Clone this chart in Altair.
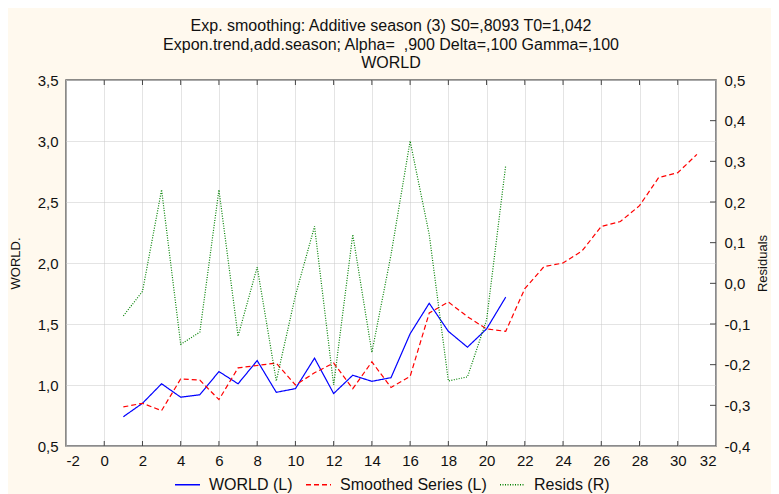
import altair as alt
import pandas as pd

# ---- data ----
x_world = list(range(1, 22))
world = [0.74, 0.85, 1.01, 0.90, 0.92, 1.11, 1.01, 1.20, 0.94, 0.97, 1.22,
         0.93, 1.08, 1.03, 1.06, 1.42, 1.67, 1.44, 1.31, 1.46, 1.72]

x_smooth = list(range(1, 32))
smoothed = [0.82, 0.85, 0.79, 1.05, 1.04, 0.88, 1.14, 1.16, 1.18, 1.00, 1.10,
            1.18, 0.97, 1.19, 0.98, 1.07, 1.59, 1.68, 1.56, 1.46, 1.44, 1.79,
            1.97, 2.00, 2.10, 2.30, 2.34, 2.47, 2.70, 2.74, 2.89]

x_resid = list(range(1, 22))
resids = [-0.08, -0.02, 0.23, -0.15, -0.12, 0.23, -0.13, 0.04, -0.24, -0.03,
          0.14, -0.25, 0.12, -0.17, 0.07, 0.35, 0.12, -0.24, -0.23, -0.09, 0.29]

series_names = ["WORLD (L)", "Smoothed Series (L)", "Resids (R)"]
series_colors = ["#0000FF", "#FF0000", "#008000"]
series_dash = [[1, 0], [5, 3], [1, 1.5]]

x_tick_values = list(range(-2, 33, 2))
x_inner_ticks = list(range(0, 31, 2))
left_tick_values = [0.5, 1.0, 1.5, 2.0, 2.5, 3.0, 3.5]
right_tick_values = [-0.4, -0.3, -0.2, -0.1, 0.0, 0.1, 0.2, 0.3, 0.4, 0.5]
right_inner_ticks = [-0.3, -0.2, -0.1, 0.0, 0.1, 0.2, 0.3, 0.4]

title_lines = [
    "Exp. smoothing: Additive season (3) S0=,8093 T0=1,042",
    "Expon.trend,add.season; Alpha= \u00a0,900 Delta=,100 Gamma=,100",
    "WORLD",
]
left_title = "WORLD."
right_title = "Residuals"

# ---- tables ----
left_df = pd.DataFrame({
    "t": x_world + x_smooth,
    "v": world + smoothed,
    "series": [series_names[0]] * len(x_world) + [series_names[1]] * len(x_smooth),
})
resid_df = pd.DataFrame({"t": x_resid, "v": resids, "series": series_names[2]})
xticks_df = pd.DataFrame({"t": x_inner_ticks})
rticks_df = pd.DataFrame({"v": right_inner_ticks})

FONT = "Liberation Sans"
W, H = 650, 366
num_expr = "replace(replace(format(datum.value, '.1f'), '.', ','), '\u2212', '-')"
int_expr = "replace(format(datum.value, 'd'), '\u2212', '-')"

x_scale = alt.Scale(domain=[-2, 32], nice=False, zero=False)
x_axis = alt.Axis(values=x_tick_values, title=None, grid=True, ticks=False,
                  domain=False, labelPadding=7, labelExpr=int_expr)

left_scale = alt.Scale(domain=[0.5, 3.5], nice=False, zero=False)
left_axis = alt.Axis(values=left_tick_values, title=left_title, grid=True,
                     ticks=False, domain=False, labelPadding=8,
                     labelExpr=num_expr, titlePadding=15, titleFontSize=13)
right_scale = alt.Scale(domain=[-0.4, 0.5], nice=False, zero=False)
right_axis = alt.Axis(values=right_tick_values, title=right_title, grid=False,
                      orient="right", ticks=False, domain=False, labelPadding=8,
                      labelExpr=num_expr, titlePadding=20, titleFontSize=13,
                      titleAngle=270)

legend = alt.Legend(title=None, orient="none", legendX=108, legendY=391,
                    direction="horizontal", columns=3, symbolType="stroke",
                    symbolSize=625, symbolStrokeWidth=1.3, labelFont=FONT,
                    labelFontSize=16, labelColor="#111111", columnPadding=10,
                    labelOffset=8, padding=0)

color = alt.Color("series:N", scale=alt.Scale(domain=series_names, range=series_colors),
                  legend=legend)
dash = alt.StrokeDash("series:N", scale=alt.Scale(domain=series_names, range=series_dash),
                      legend=legend)

left_lines = alt.Chart(left_df).mark_line(strokeWidth=1.2).encode(
    x=alt.X("t:Q", scale=x_scale, axis=x_axis),
    y=alt.Y("v:Q", scale=left_scale, axis=left_axis),
    color=color,
    strokeDash=dash,
    detail="series:N",
)

bottom_ticks = alt.Chart(xticks_df).mark_rule(color="#444444", strokeWidth=1).encode(
    x=alt.X("t:Q", scale=x_scale, axis=x_axis),
    y=alt.value(H - 5),
    y2=alt.value(H),
)
top_ticks = alt.Chart(xticks_df).mark_rule(color="#444444", strokeWidth=1).encode(
    x=alt.X("t:Q", scale=x_scale, axis=x_axis),
    y=alt.value(0),
    y2=alt.value(5),
)

resid_line = alt.Chart(resid_df).mark_line(strokeWidth=1.2).encode(
    x=alt.X("t:Q", scale=x_scale, axis=x_axis),
    y=alt.Y("v:Q", scale=right_scale, axis=right_axis),
    color=color,
    strokeDash=dash,
)
right_ticks = alt.Chart(rticks_df).mark_rule(color="#444444", strokeWidth=1).encode(
    y=alt.Y("v:Q", scale=right_scale, axis=right_axis),
    x=alt.value(W - 6),
    x2=alt.value(W),
)

chart = alt.layer(
    alt.layer(left_lines, bottom_ticks, top_ticks),
    alt.layer(resid_line, right_ticks),
).resolve_scale(y="independent").properties(
    width=W,
    height=H,
    background="#FFF9EE",
    autosize=alt.AutoSizeParams(type="none"),
    padding={"left": 58, "top": 72, "right": 55, "bottom": 48},
    title=alt.TitleParams(text=title_lines, font=FONT, fontSize=16,
                          fontWeight="normal", color="#111111", anchor="middle",
                          lineHeight=18.5, offset=2),
).configure_view(
    fill="white", stroke="#666666", strokeWidth=1.5,
).configure_axis(
    labelFont=FONT, labelFontSize=15, labelColor="#111111",
    titleFont=FONT, titleFontWeight="normal", titleColor="#111111",
    gridColor="#C8C8C8", gridDash=[1, 1], gridWidth=1,
)

chart.save("out.html", embed_options={"renderer": "svg", "actions": False})
